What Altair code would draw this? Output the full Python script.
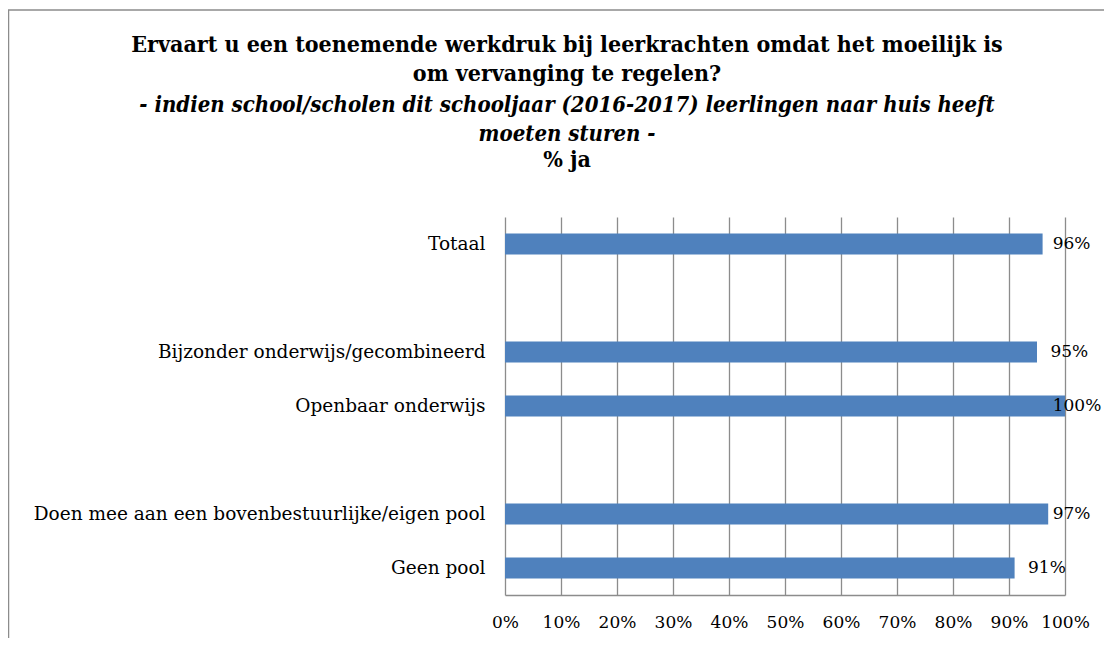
import altair as alt
import pandas as pd

categories = [
    "Totaal",
    "Bijzonder onderwijs/gecombineerd",
    "Openbaar onderwijs",
    "Doen mee aan een bovenbestuurlijke/eigen pool",
    "Geen pool",
]
values = [96, 95, 100, 97, 91]
labels = ["96%", "95%", "100%", "97%", "91%"]
y_domain = ["Totaal", "", "Bijzonder onderwijs/gecombineerd", "Openbaar onderwijs", " ",
            "Doen mee aan een bovenbestuurlijke/eigen pool", "Geen pool"]
x_ticks = [0, 10, 20, 30, 40, 50, 60, 70, 80, 90, 100]

title_lines = [
    "Ervaart u een toenemende werkdruk bij leerkrachten omdat het moeilijk is",
    "om vervanging te regelen?",
    "- indien school/scholen dit schooljaar (2016-2017) leerlingen naar huis heeft",
    "moeten sturen -",
    "% ja",
]

df = pd.DataFrame({"cat": categories, "v": values, "lab": labels})

FONT = "DejaVu Serif"
TFONT = "DejaVu Serif Condensed, DejaVu Serif"
BLUE = "#4F81BD"
GRID = "#8c8c8c"
LSIZE = 18.5

base = alt.Chart(df)

bars = base.mark_bar(color=BLUE).encode(
    x=alt.X("v:Q",
            scale=alt.Scale(domain=[0, 100], nice=False),
            axis=alt.Axis(values=x_ticks, title=None, grid=True, gridColor=GRID,
                          gridWidth=1.3, ticks=False, domain=True, domainColor=GRID,
                          domainWidth=1.5, labelFont=FONT, labelFontSize=17,
                          labelColor="black", labelPadding=19, labelOverlap=False,
                          labelFlush=False, labelExpr="datum.value + '%'")),
    y=alt.Y("cat:N",
            scale=alt.Scale(domain=y_domain, paddingInner=0.61, paddingOuter=0.305),
            axis=alt.Axis(title=None, ticks=False, domain=False, grid=False,
                          labelFont=FONT, labelFontSize=LSIZE, labelColor="black",
                          labelPadding=20, labelLimit=600)),
)

vlabels = base.transform_calculate(lx="min(datum.v + 2.4, 97.8)").mark_text(
    align="left", baseline="middle", font=FONT, fontSize=17, color="black"
).encode(
    x=alt.X("lx:Q"),
    y=alt.Y("cat:N"),
    text="lab:N",
)

def tline(i, y, italic=False, size=23):
    return alt.Chart(pd.DataFrame({"t": [title_lines[i]]})).mark_text(
        font=TFONT, fontSize=size, fontWeight="bold",
        fontStyle="italic" if italic else "normal",
        align="center", baseline="middle", color="black",
    ).encode(text="t:N", x=alt.value(62), y=alt.value(y))

titles = [
    tline(0, -172),
    tline(1, -143),
    tline(2, -112, italic=True, size=22),
    tline(3, -83, italic=True, size=22),
    tline(4, -57),
]

frame = alt.Chart(pd.DataFrame({"a": [0]})).mark_rect(
    fill=None, stroke=GRID, strokeWidth=1.5
).encode(x=alt.value(-496.5), x2=alt.value(700), y=alt.value(-207), y2=alt.value(600))

chart = alt.layer(frame, bars, vlabels, *titles).properties(
    width=560, height=378,
    padding={"left": 497, "top": 209, "right": 39, "bottom": 43},
    autosize=alt.AutoSizeParams(type="none"),
    background="white",
).configure_view(stroke=None)

chart.save("out.html", embed_options={"renderer": "svg", "actions": False})
